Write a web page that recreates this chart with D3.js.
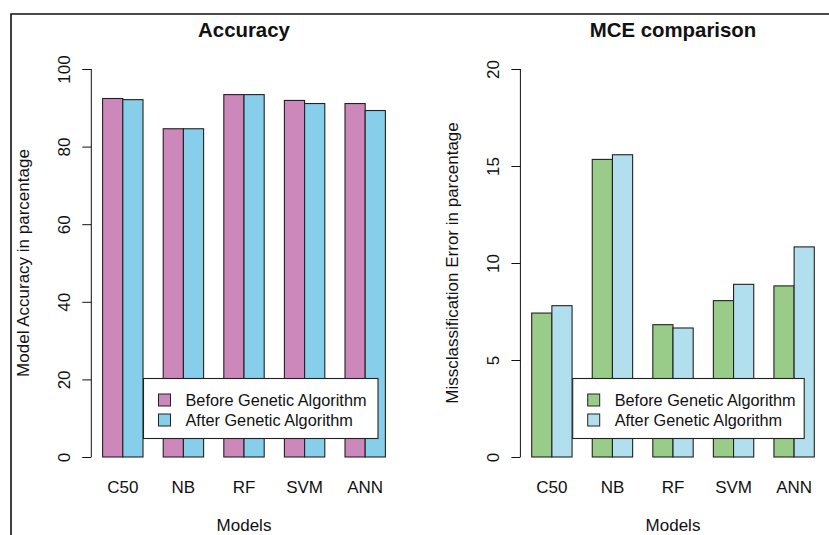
<!DOCTYPE html>
<html>
<head>
<meta charset="utf-8">
<script src="https://cdn.jsdelivr.net/npm/d3@7"></script>
<style>
  html, body { margin: 0; padding: 0; background: #fff; }
  svg { display: block; }
  text { font-family: "Liberation Sans", Arial, sans-serif; fill: #111; }
</style>
</head>
<body>
<svg id="chart" width="829" height="535"></svg>
<script>
// Model names along the x axis
const models = ["C50", "NB", "RF", "SVM", "ANN"];

// Accuracy (%) before / after genetic-algorithm tuning
const accBefore = [92.4, 84.6, 93.4, 91.9, 91.1];
const accAfter  = [92.1, 84.6, 93.4, 91.1, 89.3];

// Misclassification error (%) before / after tuning
const mceBefore = [7.42, 15.34, 6.82, 8.06, 8.82];
const mceAfter  = [7.80, 15.58, 6.65, 8.90, 10.83];

const accTicks = [0, 20, 40, 60, 80, 100];
const mceTicks = [0, 5, 10, 15, 20];

const seriesNames = ["Before Genetic Algorithm", "After Genetic Algorithm"];

const svg = d3.select("#chart");

// Outer frame (top and left edges)
svg.append("path")
  .attr("d", "M11,535 L11,14 L829,14")
  .attr("fill", "none").attr("stroke", "#111").attr("stroke-width", 1.6);

function panel(opts) {
  const { left, right, title, ylab, before, after, ticks, colors, legend } = opts;
  const g = svg.append("g");

  // R-style barplot geometry: bars of width 1 unit, 1-unit gap between groups
  const u = d3.scaleLinear().domain([0.44, 15.56]).range([left, right]);
  const x0 = d3.scaleBand().domain(models)
    .range([u(0.5), u(15.5)]).paddingInner(1 / 3).paddingOuter(1 / 6);
  const x1 = d3.scaleBand().domain([0, 1]).range([0, x0.bandwidth()]);
  const y = d3.scaleLinear().domain([0, ticks[ticks.length - 1]]).range([457, 69]);

  const rows = models.map((m, i) => ({ m, v: [before[i], after[i]] }));

  const grp = g.selectAll("g.grp").data(rows).join("g")
    .attr("transform", d => `translate(${x0(d.m)},0)`);
  grp.selectAll("rect").data(d => d.v.map((v, k) => ({ v, k }))).join("rect")
    .attr("x", d => x1(d.k))
    .attr("width", x1.bandwidth())
    .attr("y", d => y(d.v))
    .attr("height", d => y(0) - y(d.v))
    .attr("fill", d => colors[d.k])
    .attr("stroke", "#222").attr("stroke-width", 1.1);

  // Y axis
  const yAxis = d3.axisLeft(y).tickValues(ticks).tickSize(9).tickPadding(0).tickFormat(d3.format("d"));
  const ax = g.append("g").attr("transform", `translate(${left},0)`).call(yAxis);
  ax.select(".domain").attr("stroke", "#111").attr("d", `M-0,${y(0)}V${y(ticks[ticks.length - 1])}`);
  ax.selectAll(".tick line").attr("stroke", "#111");
  ax.selectAll(".tick text")
    .attr("x", null).attr("dy", null)
    .attr("transform", "translate(-21,0) rotate(-90)")
    .attr("text-anchor", "middle")
    .style("font-size", "17px").style("font-family", "'Liberation Sans', Arial, sans-serif").attr("fill", "#111");

  // Category labels
  g.selectAll("text.cat").data(models).join("text")
    .attr("class", "cat")
    .attr("x", d => x0(d) + x0.bandwidth() / 2)
    .attr("y", 493)
    .attr("text-anchor", "middle")
    .style("font-size", "17px")
    .text(d => d);

  const cx = (left + right) / 2;
  g.append("text").attr("x", cx).attr("y", 37).attr("text-anchor", "middle")
    .style("font-size", "20.4px").style("font-weight", "bold").text(title);
  g.append("text").attr("x", cx).attr("y", 531).attr("text-anchor", "middle")
    .style("font-size", "17px").text("Models");
  g.append("text")
    .attr("transform", `translate(${left - 62},263) rotate(-90)`)
    .attr("text-anchor", "middle")
    .style("font-size", "17px").text(ylab);

  // Legend
  const lg = g.append("g");
  lg.append("rect").attr("x", legend.x).attr("y", 378.5).attr("width", legend.w).attr("height", 60)
    .attr("fill", "#fff").attr("stroke", "#222").attr("stroke-width", 1.1);
  seriesNames.forEach((name, k) => {
    const cy = 400 + k * 20;
    lg.append("rect").attr("x", legend.x + 15).attr("y", cy - 6).attr("width", 12).attr("height", 12)
      .attr("fill", colors[k]).attr("stroke", "#222").attr("stroke-width", 1);
    lg.append("text").attr("x", legend.x + 42).attr("y", cy + 6)
      .style("font-size", "16.3px").text(name);
  });
}

panel({
  left: 91.3, right: 396.7,
  title: "Accuracy",
  ylab: "Model Accuracy in parcentage",
  before: accBefore, after: accAfter,
  ticks: accTicks,
  colors: ["#CC88BB", "#87CEEB"],
  legend: { x: 143.5, w: 234.5 }
});

panel({
  left: 520.4, right: 825.6,
  title: "MCE comparison",
  ylab: "Missclassification Error in parcentage",
  before: mceBefore, after: mceAfter,
  ticks: mceTicks,
  colors: ["#99CC88", "#B2DFEE"],
  legend: { x: 572.7, w: 231.5 }
});
</script>
</body>
</html>
